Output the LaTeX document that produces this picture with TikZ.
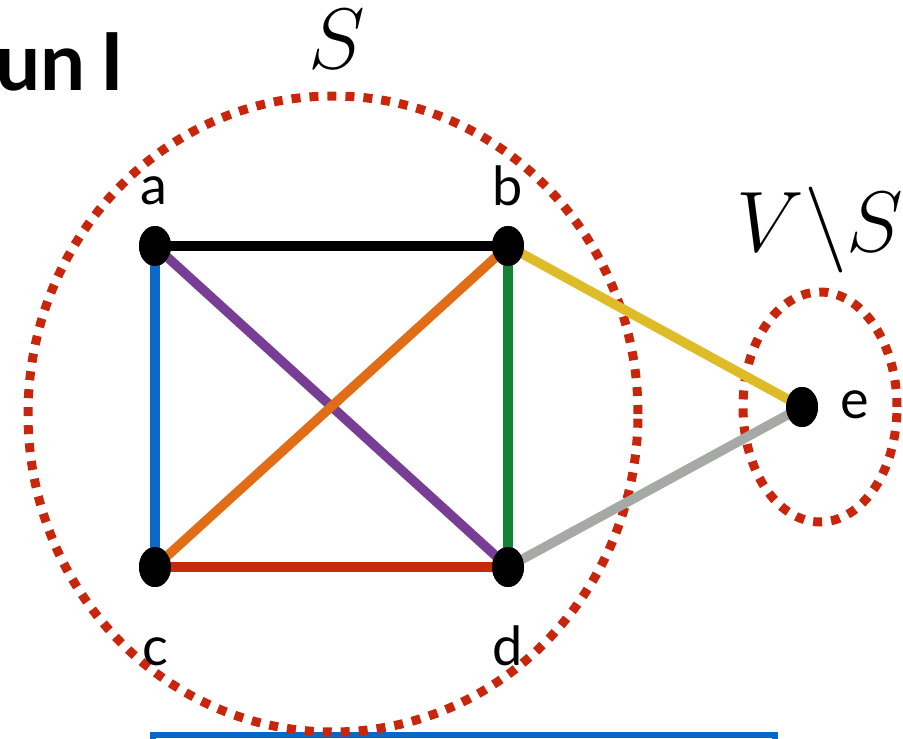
\documentclass[tikz,border=0pt]{standalone}
\usepackage{fontspec}
\setmainfont{Lato}
\usetikzlibrary{shapes.geometric}
\definecolor{setred}{RGB}{200,38,12}
\definecolor{eblue}{RGB}{12,104,200}
\definecolor{epurple}{RGB}{120,62,150}
\definecolor{eorange}{RGB}{225,110,22}
\definecolor{egreen}{RGB}{20,132,52}
\definecolor{ered}{RGB}{200,40,12}
\definecolor{eyellow}{RGB}{222,188,40}
\definecolor{egray}{RGB}{166,169,166}
\definecolor{boxblue}{RGB}{8,104,200}
\begin{document}
\begin{tikzpicture}[x=1pt,y=-1pt,
  vert/.style={ellipse,fill=black,minimum width=32pt,minimum height=40pt,inner sep=0pt},
  lbl/.style={font=\fontsize{54}{60}\selectfont,inner sep=0pt,anchor=base},
  mlbl/.style={inner sep=0pt,anchor=base,scale=3.45,font=\Huge},
  edge/.style={line width=9.5pt},
  setline/.style={draw=setred,line width=9pt,dash pattern=on 9pt off 9pt}]
\useasboundingbox (0,0) rectangle (903,739);
\begin{scope}
\clip (0,0) rectangle (903,739);
\draw[draw=boxblue,line width=5.5pt] (153,735) rectangle (775,820);
\end{scope}
\node[setline,ellipse,minimum width=610pt,minimum height=636pt,inner sep=0pt] (S) at (333,414) {};
\node[setline,ellipse,minimum width=154pt,minimum height=230pt,inner sep=0pt] (VS) at (820,407) {};
\node[vert] (a) at (155,246) {};
\node[vert] (b) at (508,246) {};
\node[vert] (c) at (155,567) {};
\node[vert] (d) at (508,567) {};
\node[vert] (e) at (802,407) {};
\draw[edge,black] (a.center) -- (b.center);
\draw[edge,eblue] (a.center) -- (c.center);
\draw[edge,epurple] (a.center) -- (d.center);
\draw[edge,eorange] (c.center) -- (b.center);
\draw[edge,egreen] (b.center) -- (d.center);
\draw[edge,ered] (c.center) -- (d.center);
\draw[edge,eyellow] (b.center) -- (e.center);
\draw[edge,egray] (d.center) -- (e.center);
\node[vert] at (a) {};
\node[vert] at (b) {};
\node[vert] at (c) {};
\node[vert] at (d) {};
\node[vert] at (e) {};
\node[lbl] (la) at (154,204) {a};
\node[lbl] (lb) at (508,205) {b};
\node[lbl] (lc) at (155,665) {c};
\node[lbl] (ld) at (508,665) {d};
\node[lbl] (le) at (855,418) {e};
\node[mlbl] (lS) at (337,68) {$S$};
\node[mlbl] (lVS) at (820,251) {$V\backslash S$};
\node[inner sep=0pt,anchor=base east,font=\fontsize{80}{96}\selectfont\bfseries] (title) at (124,90) {un\hspace{14pt}I};
\end{tikzpicture}
\end{document}
